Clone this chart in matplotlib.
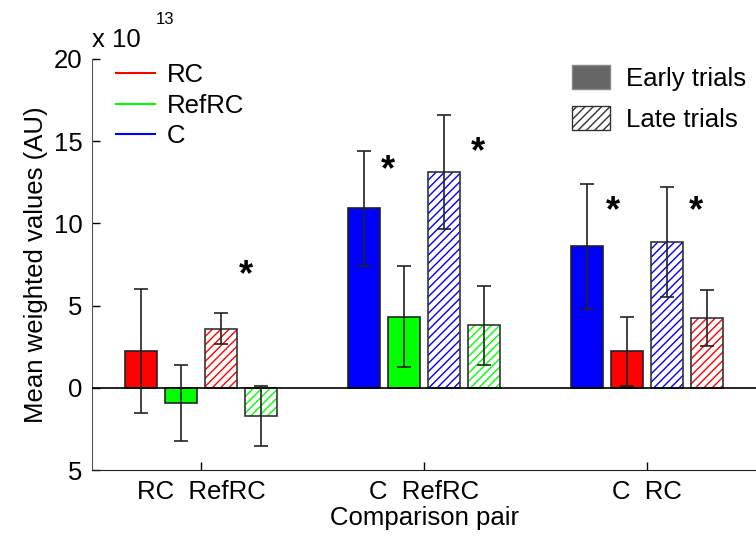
import numpy as np
import matplotlib.pyplot as plt
from matplotlib.lines import Line2D
from matplotlib.patches import Patch

plt.rcParams['font.family'] = ['Liberation Sans', 'DejaVu Sans']
plt.rcParams['hatch.linewidth'] = 1.0

# values in units of 1e13
pair_labels = ['RC  RefRC', 'C  RefRC', 'C  RC']
colors_a = ['#ff0000', '#0000ff', '#0000ff']
colors_b = ['#00ff00', '#00ff00', '#ff0000']

early_a = [2.25, 10.93, 8.60]
early_a_err = [3.76, 3.50, 3.78]
early_b = [-0.93, 4.32, 2.21]
early_b_err = [2.33, 3.06, 2.10]
late_a = [3.60, 13.12, 8.89]
late_a_err = [0.93, 3.49, 3.35]
late_b = [-1.72, 3.81, 4.22]
late_b_err = [1.85, 2.40, 1.70]

# significance stars
star_x = [1.20, 1.84, 2.24, 2.85, 3.22]
star_y = [6.8, 13.2, 14.3, 10.7, 10.7]

FS = 18.5

fig = plt.figure(figsize=(7.56, 5.39), dpi=100)
ax = fig.add_axes([92 / 756, 69 / 539, 664 / 756, 411 / 539])

x = np.arange(1, len(pair_labels) + 1)
step = 0.18
width = 0.145

series = [
    (early_a, early_a_err, colors_a, False, -1.5),
    (early_b, early_b_err, colors_b, False, -0.5),
    (late_a, late_a_err, colors_a, True, 0.5),
    (late_b, late_b_err, colors_b, True, 1.5),
]

for vals, errs, cols, hatched, off in series:
    pos = x + off * step
    if hatched:
        ax.bar(pos, vals, width, color='white', edgecolor=cols, hatch='////', linewidth=0, zorder=2)
        ax.bar(pos, vals, width, fill=False, edgecolor='#333333', linewidth=1.2, zorder=3)
    else:
        ax.bar(pos, vals, width, color=cols, edgecolor='#222222', linewidth=1.2, zorder=2)
    ax.errorbar(pos, vals, yerr=errs, fmt='none', ecolor='#222222', elinewidth=1.2,
                capsize=5, capthick=1.2, zorder=4)

ax.axhline(0, color='k', linewidth=1.2, zorder=3)

for sx, sy in zip(star_x, star_y):
    ax.text(sx, sy, '*', fontsize=26, fontweight='bold', ha='center', va='center')

ax.set_xlim(0.51, 3.49)
ax.set_ylim(-5, 20)
ax.set_xticks(x)
ax.set_xticklabels(pair_labels)
ax.set_yticks([-5, 0, 5, 10, 15, 20])
ax.set_yticklabels(['5', '0', '5', '10', '15', '20'])
ax.tick_params(direction='in', labelsize=FS, length=6, width=1, pad=7)
ax.spines['top'].set_visible(False)
ax.spines['right'].set_visible(False)
ax.spines['left'].set_color('#555555')
ax.spines['bottom'].set_color('#222222')
ax.set_xlabel('Comparison pair', fontsize=FS, labelpad=2)
ax.set_ylabel('Mean weighted values (AU)', fontsize=FS, labelpad=4)

fig.text(92 / 756, 1 - 40 / 539, 'x 10', fontsize=FS, ha='left', va='center')
fig.text(156 / 756, 1 - 20 / 539, '13', fontsize=12, ha='left', va='center')

color_handles = [Line2D([], [], color='#ff0000', lw=1.5, label='RC'),
                 Line2D([], [], color='#00ff00', lw=1.5, label='RefRC'),
                 Line2D([], [], color='#0000ff', lw=1.5, label='C')]
leg1 = ax.legend(handles=color_handles, loc='upper left', bbox_to_anchor=(0.02, 1.015),
                 frameon=False, fontsize=FS, handlelength=1.55, handletextpad=0.45,
                 labelspacing=0.25, borderaxespad=0.0)
ax.add_artist(leg1)

trial_handles = [Patch(facecolor='#666666', edgecolor='#888888', label='Early trials'),
                 Patch(facecolor='white', edgecolor='#333333', hatch='////', label='Late trials')]
ax.legend(handles=trial_handles, loc='upper right', bbox_to_anchor=(1.0, 1.01),
          frameon=False, fontsize=FS, handlelength=1.5, handleheight=1.05,
          handletextpad=0.6, labelspacing=0.6, borderaxespad=0.0)

fig.savefig('out.png', dpi=100)
